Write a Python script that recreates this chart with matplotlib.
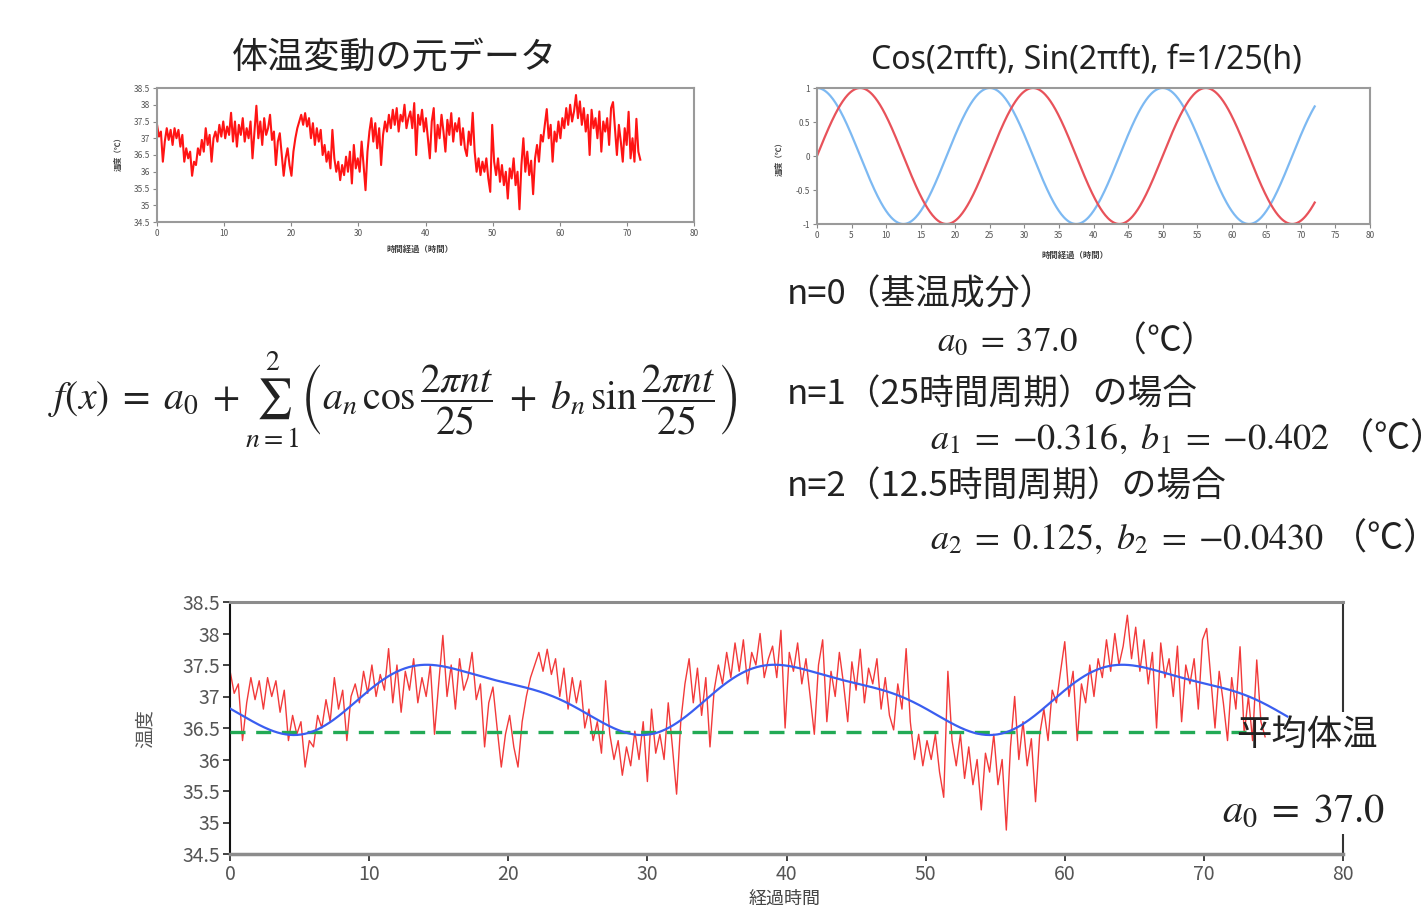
import numpy as np
import matplotlib
matplotlib.use('Agg')
import matplotlib.pyplot as plt
from matplotlib.ticker import FuncFormatter
from matplotlib.patches import Rectangle

plt.rcParams['font.family'] = ['Noto Sans CJK JP', 'DejaVu Sans']
plt.rcParams['mathtext.fontset'] = 'stix'

# ---------------- data ----------------
# body temperature readings (deg C), one every 0.3 h
temp_values = [
    37.41, 37.05, 37.2, 36.3, 36.9, 37.3, 36.95, 37.25, 36.8, 37.3,
    37.0, 37.25, 36.75, 37.1, 36.3, 36.7, 36.4, 36.6, 35.88, 36.3,
    36.2, 36.7, 36.5, 36.95, 36.6, 37.3, 36.8, 37.1, 36.3, 37.0,
    37.2, 36.9, 37.4, 37.05, 37.5, 37.0, 37.35, 37.1, 37.76, 36.9,
    37.5, 36.75, 37.4, 37.1, 37.6, 36.9, 37.3, 37.0, 37.5, 36.4,
    37.2, 37.97, 37.0, 37.5, 36.8, 37.6, 37.1, 37.3, 37.7, 36.95,
    37.2, 36.2, 36.9, 37.15, 36.5, 35.88, 36.4, 36.7, 36.2, 35.88,
    36.6, 37.0, 37.3, 37.5, 37.7, 37.4, 37.75, 37.35, 37.6, 37.0,
    37.45, 36.8, 37.3, 36.9, 37.25, 36.5, 36.8, 36.3, 36.6, 36.1,
    37.25, 36.4, 36.0, 36.3, 35.75, 36.2, 35.9, 36.45, 36.0, 36.6,
    35.65, 36.8, 36.1, 36.4, 36.0, 36.9, 36.2, 35.45, 36.6, 37.2,
    37.6, 36.9, 37.45, 36.7, 37.3, 36.2, 37.1, 37.5, 37.2, 37.7,
    37.3, 37.85, 37.4, 37.9, 37.2, 37.7, 37.5, 38.0, 37.3, 37.6,
    37.8, 37.3, 38.05, 36.5, 37.7, 37.4, 37.85, 37.2, 37.6, 37.0,
    36.4, 37.5, 37.9, 36.6, 37.4, 37.0, 37.7, 37.2, 36.6, 37.55,
    37.1, 37.75, 36.9, 37.45, 37.2, 37.6, 36.8, 37.3, 36.7, 36.47,
    37.2, 36.8, 37.76, 36.6, 36.0, 36.4, 35.9, 36.3, 36.0, 36.4,
    35.8, 35.4, 37.4, 36.3, 35.9, 36.4, 35.7, 36.2, 35.6, 36.0,
    35.2, 36.1, 35.8, 36.4, 35.6, 36.0, 34.88, 36.2, 37.0, 36.0,
    36.6, 35.9, 36.33, 35.33, 36.4, 36.8, 36.3, 37.1, 36.9, 37.4,
    37.87, 37.0, 37.4, 36.3, 37.2, 36.9, 37.5, 37.0, 37.6, 37.3,
    37.9, 37.4, 38.0, 37.5, 37.8, 38.29, 37.6, 38.1, 37.4, 37.9,
    37.2, 37.7, 36.5, 37.85, 37.3, 37.6, 37.0, 37.8, 36.6, 37.5,
    37.2, 37.6, 36.8, 37.9, 38.08, 37.3, 36.5, 37.4, 36.9, 36.3,
    37.3, 36.8, 37.79, 36.4, 37.0, 36.3, 37.58, 36.6, 36.36,
]
sample_step_h = 0.3          # hours between readings (lower chart)
top_span_h = 72.0            # time span of the raw-data chart

# Fourier coefficients
a0 = 37.0
a_coef = [-0.316, 0.125]
b_coef = [-0.402, -0.0430]
period_h = 25.0
fit_end_h = 76.0

mean_level = 36.44
mean_end_h = 73.0

basis_end_h = 72.0

top_left_yticks = [34.5, 35, 35.5, 36, 36.5, 37, 37.5, 38, 38.5]
top_right_yticks = [-1, -0.5, 0, 0.5, 1]
bottom_yticks = [34.5, 35, 35.5, 36, 36.5, 37, 37.5, 38, 38.5]

# ---------------- figure ----------------
W, H = 1424, 910
fig = plt.figure(figsize=(W / 100, H / 100), dpi=100)


def ax_px(l, t, r, b):
    return fig.add_axes([l / W, 1 - b / H, (r - l) / W, (b - t) / H])


def ftext(x, y, s, **kw):
    kw.setdefault('zorder', 6)
    return fig.text(x / W, 1 - y / H, s, **kw)


fmt_g = FuncFormatter(lambda v, p: '%g' % v)

temp = np.array(temp_values)
t_bottom = np.arange(len(temp)) * sample_step_h
t_top = np.linspace(0, top_span_h, len(temp))

# ---- top-left: raw data ----
ax1 = ax_px(157, 88, 694, 222)
ax1.plot(t_top, temp, color='#ff1414', lw=1.5)
ax1.set_xlim(0, 80)
ax1.set_ylim(34.5, 38.5)
ax1.set_xticks(range(0, 81, 10))
ax1.set_yticks(top_left_yticks)
ax1.yaxis.set_major_formatter(fmt_g)
for sp in ax1.spines.values():
    sp.set_color('#9a9a9a')
    sp.set_linewidth(1.5)
ax1.tick_params(labelsize=6, labelcolor='#555555', color='#888888',
                length=3, width=0.8, direction='out', pad=2)
ftext(118, 152, '温度（℃）', rotation=90, fontsize=5.5, color='#444444',
      ha='center', va='center', fontweight='bold')
ftext(420, 249, '時間経過（時間）', fontsize=6, color='#444444',
      ha='center', va='center', fontweight='bold')
ftext(394, 58, '体温変動の元データ', fontsize=26, color='#222222',
      ha='center', va='center')

# ---- top-right: cos / sin basis ----
ax2 = ax_px(817, 88, 1370, 224)
tb = np.linspace(0, basis_end_h, 600)
ax2.plot(tb, np.cos(2 * np.pi * tb / period_h), color='#7db9f2', lw=1.6)
ax2.plot(tb, np.sin(2 * np.pi * tb / period_h), color='#e8525a', lw=1.6)
ax2.set_xlim(0, 80)
ax2.set_ylim(-1, 1)
ax2.set_xticks(range(0, 81, 5))
ax2.set_yticks(top_right_yticks)
ax2.yaxis.set_major_formatter(fmt_g)
for sp in ax2.spines.values():
    sp.set_color('#9a9a9a')
    sp.set_linewidth(1.5)
ax2.tick_params(labelsize=6, labelcolor='#555555', color='#888888',
                length=3, width=0.8, direction='out', pad=2)
ftext(779, 157, '温度（℃）', rotation=90, fontsize=5.5, color='#444444',
      ha='center', va='center', fontweight='bold')
ftext(1075, 255, '時間経過（時間）', fontsize=6, color='#444444',
      ha='center', va='center', fontweight='bold')
ftext(1086, 60, 'Cos(2πft), Sin(2πft), f=1/25(h)', fontsize=23,
      color='#222222', ha='center', va='center',
      family=['Noto Sans', 'DejaVu Sans'])

# ---- formula and coefficients ----
formula = (r'$f(x)\;=\;a_0\;+\sum_{n=1}^{2}\left(a_n\,\cos\dfrac{2\pi nt}{25}'
           r'\;+\;b_n\,\sin\dfrac{2\pi nt}{25}\right)$')
ftext(48, 400, formula, fontsize=28.5, color='#222222', ha='left', va='center')

TXT = 25
ftext(787, 295, 'n=0（基温成分）', fontsize=TXT, color='#222222', va='center')
ftext(937, 340, r'$a_0\;=\;37.0$' + '　（℃）', fontsize=TXT, color='#222222', va='center')
ftext(787, 395, 'n=1（25時間周期）の場合', fontsize=TXT, color='#222222', va='center')
ftext(930, 437, r'$a_1\;=\;{-0.316},\ b_1\;=\;{-0.402}$' + ' （℃）', fontsize=26,
      color='#222222', va='center')
ftext(787, 487, 'n=2（12.5時間周期）の場合', fontsize=TXT, color='#222222', va='center')
ftext(930, 537, r'$a_2\;=\;0.125,\ b_2\;=\;{-0.0430}$' + ' （℃）', fontsize=26,
      color='#222222', va='center')

# ---- bottom: data + Fourier fit ----
ax3 = ax_px(230, 602, 1343, 854)
ax3.plot(t_bottom, temp, color='#f23a3a', lw=1.0, zorder=2)
tf = np.linspace(0, fit_end_h, 800)
fit = np.full_like(tf, a0)
for n, (an, bn) in enumerate(zip(a_coef, b_coef), start=1):
    fit += an * np.cos(2 * np.pi * n * tf / period_h) + bn * np.sin(2 * np.pi * n * tf / period_h)
ax3.plot(tf, fit, color='#3a5ef0', lw=1.6, zorder=4)
ax3.plot([0, mean_end_h], [mean_level, mean_level], color='#22aa55', lw=2.4,
         dashes=(4.5, 3.2), zorder=3)
ax3.set_xlim(0, 80)
ax3.set_ylim(34.5, 38.5)
ax3.set_xticks(range(0, 81, 10))
ax3.set_yticks(bottom_yticks)
ax3.yaxis.set_major_formatter(fmt_g)
ax3.spines['left'].set_color('#111111')
ax3.spines['left'].set_linewidth(1.5)
ax3.spines['right'].set_color('#333333')
ax3.spines['right'].set_linewidth(1.5)
ax3.spines['top'].set_color('#8c8c8c')
ax3.spines['top'].set_linewidth(2.2)
ax3.spines['bottom'].set_color('#8c8c8c')
ax3.spines['bottom'].set_linewidth(2.5)
ax3.tick_params(labelsize=14, labelcolor='#555555', color='#222222',
                length=5, width=1.2, direction='out', pad=2)

# white patch covering spine behind annotation
fig.patches.append(Rectangle((1300 / W, 1 - 834 / H), 124 / W, 122 / H,
                             transform=fig.transFigure, facecolor='white',
                             edgecolor='none', zorder=5))
ftext(1236, 735, '平均体温', fontsize=25.5, color='#222222', ha='left', va='center')
ftext(1222, 810, r'$a_0\;=\;37.0$', fontsize=29, color='#222222', ha='left', va='center')

ftext(145, 728, '温度', rotation=90, fontsize=14, color='#555555',
      ha='center', va='center')
ftext(785, 899, '経過時間', fontsize=13, color='#444444', ha='center', va='center')

fig.savefig('out.png', dpi=100, facecolor='white')
